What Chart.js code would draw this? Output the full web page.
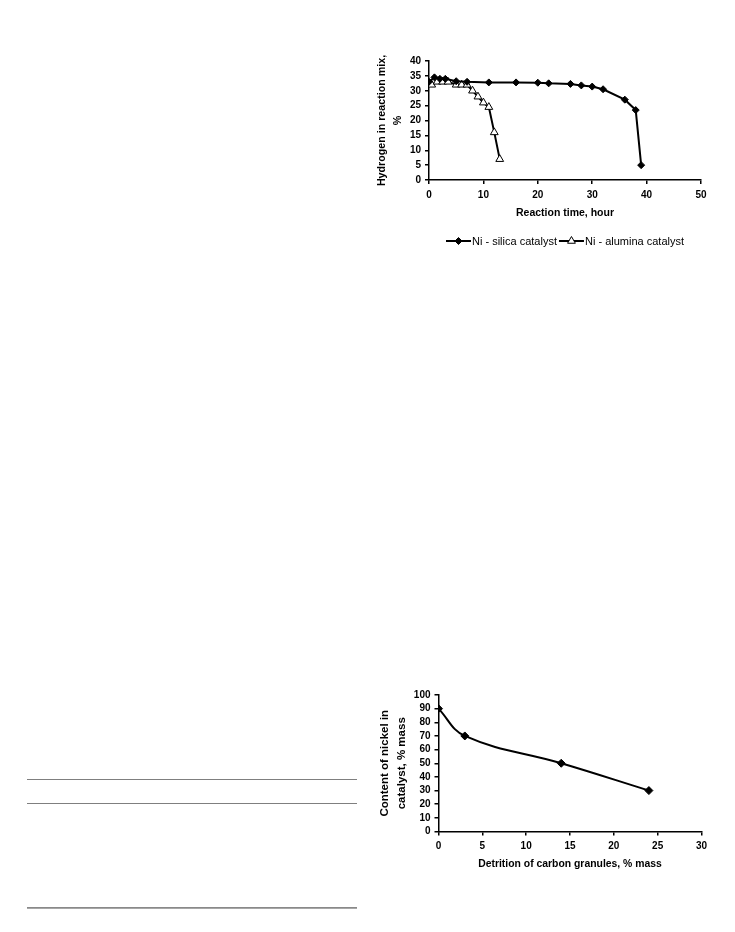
<!DOCTYPE html>
<html>
<head>
<meta charset="utf-8">
<script src="https://cdn.jsdelivr.net/npm/chart.js@4/dist/chart.umd.min.js"></script>
<style>
  html, body { margin: 0; padding: 0; background: #fff; }
  body { width: 735px; height: 932px; position: relative; overflow: hidden; }
  .rule { position: absolute; left: 27px; width: 330px; height: 1px; background: #7f7f7f; }
  #c1wrap { position: absolute; left: 360px; top: 40px; width: 360px; height: 220px; }
  #c2wrap { position: absolute; left: 360px; top: 680px; width: 360px; height: 200px; }
</style>
</head>
<body>
<div class="rule" style="top:779px"></div>
<div class="rule" style="top:803px"></div>
<div class="rule" style="top:907px;height:2px;background:linear-gradient(#7a7a7a,#b5b5b5)"></div>

<div id="c1wrap"><canvas id="c1" width="360" height="220"></canvas></div>
<div id="c2wrap"><canvas id="c2" width="360" height="200"></canvas></div>

<script>
// ---------- Chart 1 data ----------
const silicaTime = [0, 1, 2, 3, 5, 7, 11, 16, 20, 22, 26, 28, 30, 32, 36, 38, 39];
const silicaH2   = [33, 34.5, 34, 34, 33.2, 33, 32.8, 32.8, 32.7, 32.5, 32.3, 31.8, 31.4, 30.5, 27, 23.5, 5];
const aluminaTime = [0.5, 1.5, 2.5, 3.5, 5, 6, 7, 8, 9, 10, 11, 12, 13];
const aluminaH2   = [32, 33, 33, 33, 32, 32, 32, 30, 28, 26, 24.5, 16, 7];
const seriesNames1 = ['Ni - silica catalyst', 'Ni - alumina catalyst'];
const xTitle1 = 'Reaction time, hour';
const yTitle1 = ['Hydrogen in reaction mix,', '%'];

// ---------- Chart 2 data ----------
const detrition = [0, 3, 14, 24];
const nickel    = [90, 70, 50, 30];
const xTitle2 = 'Detrition of carbon granules, % mass';
const yTitle2 = ['Content of nickel in', 'catalyst, % mass'];

const FONT = "'Liberation Sans', Arial, Helvetica, sans-serif";
Chart.defaults.font.family = FONT;
Chart.defaults.color = '#000';

function pts(xs, ys) { return xs.map((x, i) => ({x: x, y: ys[i]})); }

function axis(opts) {
  return {
    type: 'linear',
    min: opts.min, max: opts.max,
    ticks: { stepSize: opts.step, autoSkip: false, maxRotation: 0, color: '#000', padding: opts.tickPad,
             font: { family: FONT, size: 10, weight: 'bold' } },
    grid: { drawOnChartArea: false, drawTicks: true, tickLength: 4, color: '#000', lineWidth: 1.5 },
    border: { display: true, color: '#000', width: 1.5 },
    title: { display: true, text: opts.title, color: '#000',
             font: { family: FONT, size: opts.titleSize, weight: 'bold', lineHeight: opts.titleLH },
             padding: opts.titlePad },
    afterFit: opts.fit
  };
}

// custom legend (line + marker + text) under chart 1
const lineLegend = {
  id: 'lineLegend',
  afterDraw(chart) {
    const ctx = chart.ctx;
    const y = 201;
    ctx.save();
    ctx.font = '11px ' + FONT;
    ctx.textBaseline = 'middle';
    const lineLen = 25;
    const items = chart.data.datasets.map(ds => ({ds, w: lineLen + 1 + ctx.measureText(ds.label).width}));
    const total = items.reduce((s, it) => s + it.w, 0) + 2;
    let x = (chart.chartArea.left + chart.chartArea.right) / 2 - total / 2;
    items.forEach((it) => {
      const ds = it.ds;
      ctx.strokeStyle = ds.borderColor;
      ctx.lineWidth = ds.borderWidth;
      ctx.beginPath(); ctx.moveTo(x, y); ctx.lineTo(x + lineLen, y); ctx.stroke();
      ctx.fillStyle = ds.pointBackgroundColor; ctx.strokeStyle = ds.pointBorderColor;
      ctx.lineWidth = ds.pointBorderWidth;
      Chart.helpers.drawPoint(ctx, {
        pointStyle: ds.pointStyle, radius: ds.pointRadius, borderWidth: ds.pointBorderWidth, rotation: 0
      }, x + lineLen / 2, y);
      ctx.fillStyle = '#000';
      ctx.fillText(ds.label, x + lineLen + 1, y + 0.5);
      x += it.w + 2;
    });
    ctx.restore();
  }
};

new Chart(document.getElementById('c1'), {
  type: 'scatter',
  data: {
    datasets: [
      { label: seriesNames1[0], data: pts(silicaTime, silicaH2), showLine: true,
        borderColor: '#000', borderWidth: 2, pointStyle: 'rectRot', pointRadius: 3.5,
        pointBackgroundColor: '#000', pointBorderColor: '#000', pointBorderWidth: 1, tension: 0 },
      { label: seriesNames1[1], data: pts(aluminaTime, aluminaH2), showLine: true,
        borderColor: '#000', borderWidth: 2, pointStyle: 'triangle', pointRadius: 4.5,
        pointBackgroundColor: '#fff', pointBorderColor: '#000', pointBorderWidth: 1, tension: 0 }
    ]
  },
  options: {
    responsive: false, animation: false, devicePixelRatio: 1,
    layout: { padding: { left: 0, top: 21, right: 19, bottom: 40 } },
    plugins: { legend: { display: false }, tooltip: { enabled: false } },
    scales: {
      x: axis({min: 0, max: 50, step: 10, tickPad: 5, title: xTitle1, titleSize: 10.5, titleLH: 1.2,
               titlePad: {top: 0, bottom: 0.7}, fit: s => { s.height = 40; }}),
      y: axis({min: 0, max: 40, step: 5, tickPad: 4, title: yTitle1, titleSize: 10.7, titleLH: 1.55,
               titlePad: {top: 13.5, bottom: 0}, fit: s => { s.width = 69; }})
    }
  },
  plugins: [lineLegend]
});

new Chart(document.getElementById('c2'), {
  type: 'scatter',
  data: {
    datasets: [
      { label: 'nickel', data: pts(detrition, nickel), showLine: true,
        borderColor: '#000', borderWidth: 2, pointStyle: 'rectRot', pointRadius: 4,
        pointBackgroundColor: '#000', pointBorderColor: '#000', pointBorderWidth: 1,
        tension: 0.4 }
    ]
  },
  options: {
    responsive: false, animation: false, devicePixelRatio: 1,
    layout: { padding: { left: 0, top: 15, right: 18.5, bottom: 9.5 } },
    plugins: { legend: { display: false }, tooltip: { enabled: false } },
    scales: {
      x: axis({min: 0, max: 30, step: 5, tickPad: 4.5, title: xTitle2, titleSize: 10.4, titleLH: 1.2,
               titlePad: {top: 0, bottom: 0.3}, fit: s => { s.height = 39; }}),
      y: axis({min: 0, max: 100, step: 10, tickPad: 4, title: yTitle2, titleSize: 11.5, titleLH: 1.48,
               titlePad: {top: 16.5, bottom: 0}, fit: s => { s.width = 78.5; }})
    }
  }
});
</script>
</body>
</html>
